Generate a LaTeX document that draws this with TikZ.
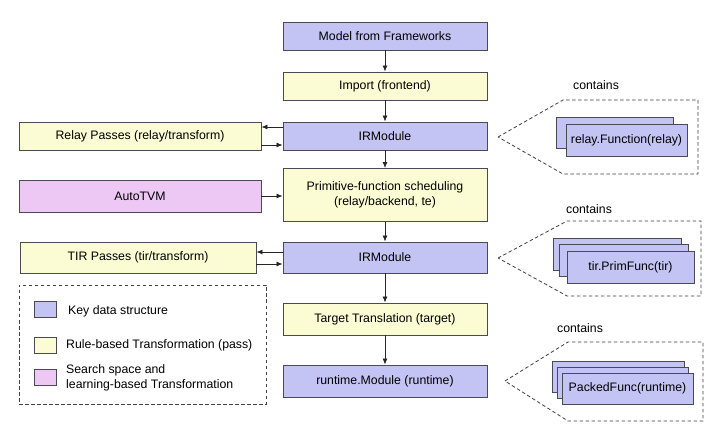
\documentclass[tikz,border=0pt]{standalone}
\usepackage{fontspec}
\setmainfont{Liberation Sans}
\usetikzlibrary{arrows.meta,calc}
\definecolor{kblue}{HTML}{C4C4F4}
\definecolor{kyellow}{HTML}{FCFCD4}
\definecolor{kpink}{HTML}{EEC8F4}
\definecolor{kline}{HTML}{4A4A52}
\begin{document}
\begin{tikzpicture}[x=1pt,y=-1pt,
  every node/.style={font=\fontsize{12.3}{14.5}\selectfont, text=black},
  bx/.style={draw=kline, line width=0.9pt, inner sep=0pt, align=center},
  blue/.style={bx, fill=kblue},
  yel/.style={bx, fill=kyellow},
  pnk/.style={bx, fill=kpink},
  arr/.style={-{Latex[length=6pt,width=5pt]}, line width=0.8pt, draw=black!85},
  dsh/.style={dashed, dash pattern=on 3.5pt off 2.5pt, line width=0.8pt, draw=black!75}
]
\useasboundingbox[fill=white] (0,0) rectangle (720,430);

% main column
\node[blue, minimum width=204pt, minimum height=28pt] (model) at (385,36) {Model from Frameworks};
\node[yel, minimum width=204pt, minimum height=28pt] (import) at (385,86) {Import (frontend)};
\node[blue, minimum width=204pt, minimum height=28pt] (ir1) at (385,136) {IRModule};
\node[yel, minimum width=204pt, minimum height=53pt] (prim) at (385,195) {Primitive-function scheduling\\(relay/backend, te)};
\node[blue, minimum width=204pt, minimum height=31pt] (ir2) at (385,257.5) {IRModule};
\node[yel, minimum width=204pt, minimum height=32pt] (target) at (385,319) {Target Translation (target)};
\node[blue, minimum width=204pt, minimum height=32pt] (rt) at (385,381) {runtime.Module (runtime)};

% left column
\node[yel, minimum width=242pt, minimum height=28pt] (relay) at (140,136) {Relay Passes (relay/transform)};
\node[pnk, minimum width=242pt, minimum height=32pt] (autotvm) at (140,196) {AutoTVM};
\node[yel, minimum width=236pt, minimum height=31pt] (tir) at (138,257.5) {TIR Passes (tir/transform)};

% vertical arrows
\draw[arr] (model) -- (import);
\draw[arr] (import) -- (ir1);
\draw[arr] (ir1) -- (prim);
\draw[arr] (prim) -- (ir2);
\draw[arr] (ir2) -- (target);
\draw[arr] (target) -- (rt);

% side arrows
\draw[arr] ([yshift=9pt]ir1.west) -- ([yshift=9pt]ir1.west -| relay.east);
\draw[arr] ([yshift=-9pt]relay.east) -- ([yshift=-9pt]relay.east -| ir1.west);
\draw[arr] (autotvm.east) -- (autotvm.east -| prim.west);
\draw[arr] ([yshift=5.5pt]ir2.west) -- ([yshift=5.5pt]ir2.west -| tir.east);
\draw[arr] ([yshift=-6.5pt]tir.east) -- ([yshift=-6.5pt]tir.east -| ir2.west);

% legend
\node[dsh, draw, minimum width=247pt, minimum height=119pt, inner sep=0pt] (legend) at (142.5,344.5) {};
\node[blue, minimum width=22pt, minimum height=16pt] (lg1) at (45,309.5) {};
\node[yel, minimum width=22pt, minimum height=16pt] (lg2) at (45,345) {};
\node[pnk, minimum width=22pt, minimum height=16pt] (lg3) at (45,377.5) {};
\node[anchor=west, inner sep=0pt] (lt1) at (68,311) {Key data structure};
\node[anchor=west, inner sep=0pt] (lt2) at (66,345) {Rule-based Transformation (pass)};
\node[anchor=west, inner sep=0pt, align=left] (lt3) at (66,378) {Search space and\\learning-based Transformation};

% callout 1
\node (c1) at (596,85) {contains};
\draw[dsh] (498,137) -- (563,100) -- (698,100) -- (698,174) -- (563,174) -- cycle;
\node[blue, minimum width=117pt, minimum height=31pt] (f1b) at (614.5,132.5) {};
\node[blue, minimum width=121pt, minimum height=32pt] (f1) at (626.5,140) {relay.Function(relay)};

% callout 2
\node (c2) at (589,209) {contains};
\draw[dsh] (498,258) -- (567,221) -- (701,221) -- (701,296) -- (567,296) -- cycle;
\node[blue, minimum width=128pt, minimum height=32pt] (f2c) at (617,254) {};
\node[blue, minimum width=129pt, minimum height=32pt] (f2b) at (623.5,260) {};
\node[blue, minimum width=127pt, minimum height=32pt] (f2) at (630.5,267) {tir.PrimFunc(tir)};

% callout 3
\node (c3) at (580,328) {contains};
\draw[dsh] (505,381) -- (568,342) -- (703,342) -- (703,421) -- (568,421) -- cycle;
\node[blue, minimum width=132pt, minimum height=31pt] (f3c) at (618,376.5) {};
\node[blue, minimum width=131pt, minimum height=31pt] (f3b) at (622.5,382.5) {};
\node[blue, minimum width=131pt, minimum height=31pt] (f3) at (627.5,388.5) {PackedFunc(runtime)};
\end{tikzpicture}
\end{document}
